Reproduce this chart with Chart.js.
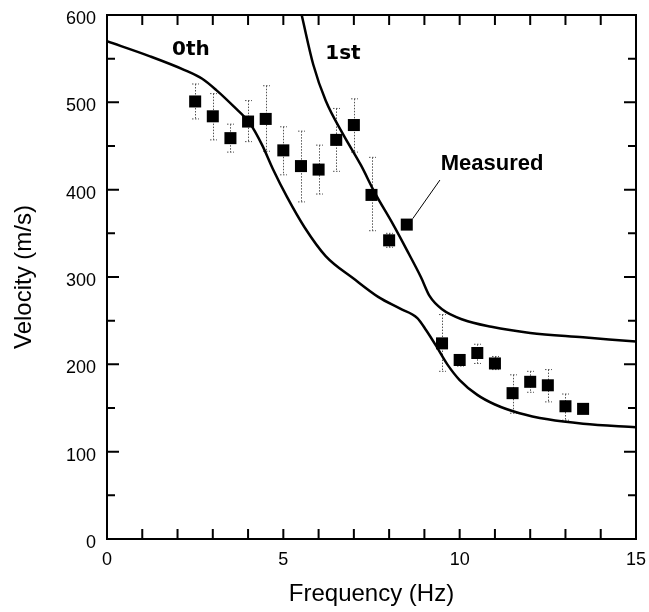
<!DOCTYPE html>
<html>
<head>
<meta charset="utf-8">
<script src="https://cdn.jsdelivr.net/npm/chart.js@4.4.1/dist/chart.umd.min.js"></script>
<style>
  html, body { margin: 0; padding: 0; background: #fff; }
  canvas { display: block; }
</style>
</head>
<body>
<canvas id="myChart" width="649" height="612"></canvas>
<script>
// measured phase velocities (squares) with error bar limits
const freq = [2.5, 3, 3.5, 4, 4.5, 5, 5.5, 6, 6.5, 7, 7.5, 8, 8.5, 9.5, 10, 10.5, 11, 11.5, 12, 12.5, 13, 13.5];
const velocity = [501, 484, 459, 478, 481, 445, 427, 423, 457, 474, 394, 342, 360, 224, 205, 213, 201, 167, 180, 176, 152, 149];
const errHigh = [521, 510, 475, 502, 519, 472, 467, 451, 493, 504, 437, 350, null, 257, 211, 223, 209, 188, 192, 194, 166, 153];
const errLow = [481, 457, 443, 455, 444, 417, 386, 395, 421, 443, 353, 334, null, 192, 198, 201, 194, 144, 168, 157, 136, 145];

// theoretical curves: fundamental (0th) and first higher mode (1st)
const mode0Freq = [0, 1.2, 2.2, 2.7, 3.1, 3.6, 4.05, 4.4, 4.7, 5.1, 5.6, 6.2, 7.0, 7.7, 8.3, 8.8, 9.05, 9.35, 9.65, 10.0, 10.5, 11.0, 11.7, 12.5, 13.5, 15];
const mode0Vel = [570, 553, 537, 527, 514, 495, 476, 451, 424, 392, 357, 324, 298, 277, 264, 253, 239, 220, 200, 182, 165, 154, 144, 137, 132, 128];
const mode1Freq = [5.52, 5.85, 6.2, 6.7, 7.2, 7.6, 8.1, 8.5, 8.9, 9.15, 9.5, 10.1, 10.9, 12.0, 13.5, 15];
const mode1Vel = [600, 543, 502, 463, 428, 396, 361, 331, 300, 278, 263, 251, 243, 236, 231, 226];

const xTicks = [0, 5, 10, 15];
const yTicks = [0, 100, 200, 300, 400, 500, 600];

const toPoints = (xs, ys) => xs.map((v, i) => ({ x: v, y: ys[i] }));

const decor = {
  id: "decor",
  beforeDatasetsDraw(chart) {
    const { ctx } = chart;
    const sx = chart.scales.x, sy = chart.scales.y;
    ctx.save();
    ctx.strokeStyle = "#555";
    ctx.lineWidth = 1;
    ctx.setLineDash([1.5, 1.5]);
    freq.forEach((f, i) => {
      if (errHigh[i] == null) return;
      const px = Math.round(sx.getPixelForValue(f)) + 0.5;
      const top = sy.getPixelForValue(errHigh[i]);
      const bot = sy.getPixelForValue(errLow[i]);
      ctx.beginPath();
      ctx.moveTo(px, top);
      ctx.lineTo(px, bot);
      ctx.moveTo(px - 3.5, top);
      ctx.lineTo(px + 3.5, top);
      ctx.moveTo(px - 3.5, bot);
      ctx.lineTo(px + 3.5, bot);
      ctx.stroke();
    });
    ctx.restore();
  },
  afterDraw(chart) {
    const { ctx, chartArea: a } = chart;
    const sx = chart.scales.x, sy = chart.scales.y;
    ctx.save();
    ctx.strokeStyle = "#000";
    ctx.lineWidth = 2;
    ctx.strokeRect(a.left, a.top, a.right - a.left, a.bottom - a.top);

    // inward tick marks on all four sides
    ctx.beginPath();
    for (let v = 1; v < 15; v++) {
      const px = sx.getPixelForValue(v);
      ctx.moveTo(px, a.bottom); ctx.lineTo(px, a.bottom - 10);
      ctx.moveTo(px, a.top); ctx.lineTo(px, a.top + 10);
    }
    for (let v = 50; v < 600; v += 50) {
      const py = sy.getPixelForValue(v);
      const len = v % 100 === 0 ? 12 : 8;
      ctx.moveTo(a.left, py); ctx.lineTo(a.left + len, py);
      ctx.moveTo(a.right, py); ctx.lineTo(a.right - len, py);
    }
    ctx.stroke();

    // curve labels
    ctx.fillStyle = "#000";
    ctx.textAlign = "center";
    ctx.textBaseline = "middle";
    ctx.font = "bold 20px 'DejaVu Sans'";
    ctx.fillText("0th", sx.getPixelForValue(2.38), sy.getPixelForValue(560));
    ctx.fillText("1st", sx.getPixelForValue(6.69), sy.getPixelForValue(556));

    // measured callout
    ctx.font = "bold 22px 'Liberation Sans'";
    ctx.fillText("Measured", sx.getPixelForValue(10.92), sy.getPixelForValue(429));
    ctx.lineWidth = 1;
    ctx.beginPath();
    ctx.moveTo(sx.getPixelForValue(9.44), sy.getPixelForValue(411));
    ctx.lineTo(sx.getPixelForValue(freq[12]) + 6, sy.getPixelForValue(velocity[12]) - 6);
    ctx.stroke();
    ctx.restore();
  }
};

new Chart(document.getElementById("myChart"), {
  type: "scatter",
  data: {
    datasets: [
      {
        label: "0th",
        data: toPoints(mode0Freq, mode0Vel),
        showLine: true,
        borderColor: "#000",
        borderWidth: 2.5,
        pointRadius: 0,
        cubicInterpolationMode: "monotone",
      },
      {
        label: "1st",
        data: toPoints(mode1Freq, mode1Vel),
        showLine: true,
        borderColor: "#000",
        borderWidth: 2.5,
        pointRadius: 0,
        cubicInterpolationMode: "monotone",
      },
      {
        label: "Measured",
        data: toPoints(freq, velocity),
        pointStyle: "rect",
        pointRadius: 8.5,
        backgroundColor: "#000",
        borderColor: "#000",
        borderWidth: 0,
      },
    ],
  },
  options: {
    responsive: false,
    animation: false,
    layout: { padding: { left: 0, right: 13, top: 15, bottom: 0 } },
    plugins: {
      legend: { display: false },
      tooltip: { enabled: false },
    },
    scales: {
      x: {
        type: "linear",
        min: 0,
        max: 15,
        afterBuildTicks: (s) => { s.ticks = xTicks.map((v) => ({ value: v })); },
        afterFit: (s) => { s.height = 73; s.paddingLeft = 0; s.paddingRight = 0; },
        grid: { display: false, drawTicks: false },
        border: { display: false },
        ticks: {
          padding: 10,
          color: "#000",
          font: { family: "'Liberation Sans'", size: 18 },
        },
        title: {
          display: true,
          text: "Frequency (Hz)",
          color: "#000",
          padding: { top: 0, bottom: 3 },
          font: { family: "'Liberation Sans'", size: 24 },
        },
      },
      y: {
        type: "linear",
        min: 0,
        max: 600,
        afterBuildTicks: (s) => { s.ticks = yTicks.map((v) => ({ value: v })); },
        afterFit: (s) => { s.width = 107; s.paddingTop = 0; s.paddingBottom = 0; },
        grid: { display: false, drawTicks: false },
        border: { display: false },
        ticks: {
          padding: 11,
          labelOffset: 4,
          color: "#000",
          font: { family: "'Liberation Sans'", size: 18 },
        },
        title: {
          display: true,
          text: "Velocity (m/s)",
          color: "#000",
          padding: { top: 10, bottom: 0 },
          font: { family: "'Liberation Sans'", size: 24 },
        },
      },
    },
  },
  plugins: [decor],
});
</script>
</body>
</html>
